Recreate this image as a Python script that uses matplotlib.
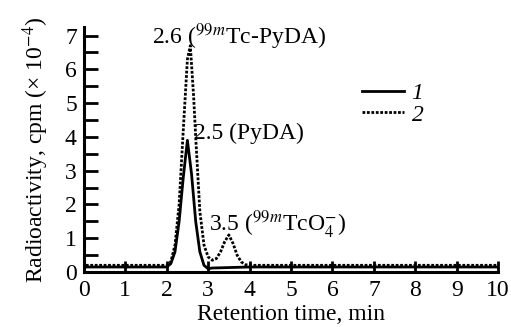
import matplotlib.pyplot as plt
from matplotlib.ticker import MultipleLocator

plt.rcParams['font.family'] = 'Liberation Serif'
plt.rcParams['mathtext.fontset'] = 'stix'

# curve 1 (solid): retention time, min / radioactivity x 1e-4
t1 = [0.05, 1.0, 2.0, 2.1, 2.2, 2.3, 2.4, 2.5, 2.6, 2.7, 2.8, 2.9, 3.0, 3.1, 4.0, 10.0]
r1 = [0.15, 0.15, 0.15, 0.25, 0.6, 1.5, 2.8, 3.9, 2.9, 1.5, 0.6, 0.2, 0.1, 0.12, 0.15, 0.15]

# curve 2 (dotted)
t2 = [0.05, 1.0, 2.0, 2.1, 2.2, 2.3, 2.4, 2.5, 2.57, 2.65, 2.7, 2.8, 2.9, 3.0, 3.1, 3.2,
      3.3, 3.4, 3.5, 3.6, 3.7, 3.8, 3.9, 4.0, 10.0]
r2 = [0.2, 0.2, 0.2, 0.3, 0.8, 2.0, 4.2, 6.3, 6.7, 5.2, 4.0, 1.8, 0.8, 0.45, 0.35, 0.4,
      0.6, 0.9, 1.1, 0.85, 0.5, 0.3, 0.22, 0.2, 0.2]

fs = 17
fig = plt.figure(figsize=(5.11, 3.27), dpi=100)
ax = fig.add_axes([0.164, 0.168, 0.811, 0.749])

ax.plot(t1, r1, color='black', lw=2, label='1')
ax.plot(t2, r2, color='black', lw=2, ls=(0, (1, 0.6)), label='2')

ax.set_xlim(0, 10)
ax.set_ylim(0, 7.25)
ax.spines['top'].set_visible(False)
ax.spines['right'].set_visible(False)
ax.spines['left'].set_linewidth(2.2)
ax.spines['bottom'].set_linewidth(2.2)
ax.set_xticks(range(11))
ax.set_yticks(range(8))
ax.yaxis.set_minor_locator(MultipleLocator(0.5))
ax.tick_params(axis='x', direction='in', length=8, width=2, labelsize=fs, pad=6)
ax.tick_params(axis='y', which='both', direction='in', length=10, width=2, labelsize=fs, pad=5)

ax.set_xlabel('Retention time, min', fontsize=fs, labelpad=2)
ax.set_ylabel('Radioactivity, cpm (× 10$^{-4}$)', fontsize=fs, labelpad=10)

ax.text(1.65, 6.75, '2.6 ($^{99m}$Tc-PyDA)', fontsize=fs)
ax.text(2.65, 3.95, '2.5 (PyDA)', fontsize=fs)
ax.text(3.02, 1.2, '3.5 ($^{99m}$TcO$_4^{-}$)', fontsize=fs)

ax.legend(loc='upper left', bbox_to_anchor=(0.62, 0.86), frameon=False,
          prop={'size': fs, 'style': 'italic'},
          handlelength=1.8, handletextpad=0.3, labelspacing=0.0)

fig.savefig('out.png', dpi=100)
